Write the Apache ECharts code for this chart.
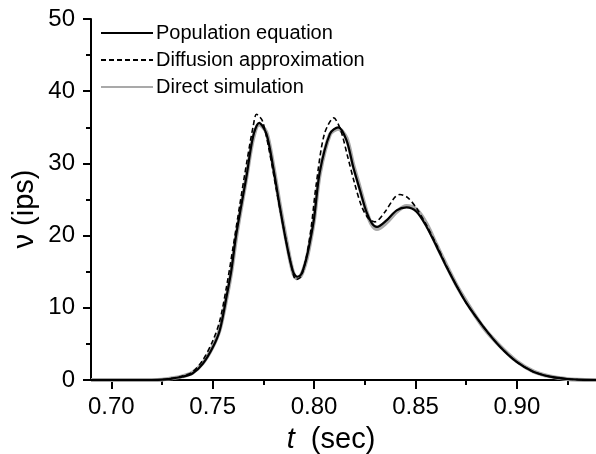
<!DOCTYPE html>
<html>
<head>
<meta charset="utf-8">
<script src="https://cdn.jsdelivr.net/npm/echarts@6/dist/echarts.min.js"></script>
<style>
html,body{margin:0;padding:0;background:#fff;}
#c{width:596px;height:454px;}
</style>
</head>
<body>
<div id="c"></div>
<script>
// Data
const tPop = [0.690, 0.710, 0.720, 0.725, 0.730, 0.735, 0.740, 0.745, 0.750, 0.7535, 0.757, 0.7592, 0.7617, 0.7666, 0.7699, 0.7729, 0.7765, 0.7798, 0.7831, 0.7864, 0.7896, 0.7916, 0.7936, 0.7960, 0.7980, 0.8000, 0.8028, 0.8078, 0.8119, 0.8160, 0.8193, 0.8226, 0.8259, 0.8285, 0.8310, 0.8357, 0.8407, 0.8456, 0.8505, 0.8555, 0.8604, 0.8654, 0.8703, 0.8752, 0.8834, 0.8917, 0.8999, 0.9081, 0.9163, 0.9246, 0.9300, 0.939];
const vPop = [0, 0, 0, 0.04, 0.2, 0.45, 0.9, 2.2, 4.5, 6.9, 11.8, 15.2, 20.3, 28.1, 33.7, 35.6, 34.1, 29.5, 24.0, 18.9, 15.0, 14.3, 14.6, 16.6, 19.2, 22.4, 28.8, 34.1, 35.0, 33.2, 29.5, 26.3, 23.2, 21.7, 21.2, 22.1, 23.5, 23.9, 23.3, 21.2, 18.5, 15.6, 13.0, 10.6, 7.4, 4.6, 2.5, 1.15, 0.46, 0.14, 0.05, 0];

const tDiff = [0.690, 0.710, 0.720, 0.725, 0.730, 0.735, 0.740, 0.745, 0.750, 0.7535, 0.757, 0.760, 0.7635, 0.767, 0.7700, 0.7716, 0.7745, 0.7780, 0.7815, 0.7850, 0.7885, 0.7911, 0.7935, 0.7960, 0.7985, 0.8010, 0.8050, 0.8097, 0.8130, 0.8165, 0.8200, 0.8235, 0.8270, 0.8300, 0.8350, 0.8395, 0.8423, 0.8460, 0.8505, 0.8555, 0.8604, 0.8654, 0.8703, 0.8752, 0.8834, 0.8917, 0.8999, 0.9081, 0.9163, 0.9246, 0.9300, 0.939];
const vDiff = [0, 0, 0, 0.05, 0.25, 0.55, 1.1, 2.7, 5.4, 8.2, 13.2, 18.3, 24.5, 30.5, 35.2, 36.8, 35.9, 31.6, 26.2, 21.0, 16.2, 13.9, 14.3, 16.8, 21.0, 27.0, 34.0, 36.3, 34.7, 31.0, 27.2, 24.0, 22.3, 21.9, 23.3, 25.2, 25.7, 25.3, 23.8, 21.4, 18.7, 15.7, 13.0, 10.6, 7.4, 4.6, 2.5, 1.15, 0.46, 0.14, 0.05, 0];

const tSim = tPop;
const vSim = [0, 0, 0, 0.05, 0.25, 0.5, 1.0, 2.3, 4.6, 7.0, 11.6, 15.0, 20.0, 28.0, 33.4, 35.4, 34.3, 29.8, 24.3, 19.2, 14.9, 14.1, 14.5, 16.4, 19.0, 22.2, 28.5, 34.0, 34.8, 33.5, 29.8, 26.6, 23.3, 21.5, 20.9, 21.8, 23.3, 24.1, 23.6, 21.6, 18.7, 15.8, 13.1, 10.8, 7.3, 4.7, 2.6, 1.2, 0.5, 0.15, 0.05, 0];

const xMajorTicks = [0.70, 0.75, 0.80, 0.85, 0.90];
const xMinorTicks = [0.725, 0.775, 0.825, 0.875, 0.925];
const seriesNames = ['Population equation', 'Diffusion approximation', 'Direct simulation'];

const zip = (a, b) => a.map((x, i) => [x, b[i]]);
const FONT = 'Liberation Sans, Arial, Helvetica, sans-serif';

const chart = echarts.init(document.getElementById('c'), null, {renderer: 'canvas'});
chart.setOption({
  backgroundColor: '#ffffff',
  animation: false,
  grid: {left: 91, right: 0, top: 19, bottom: 74, containLabel: false, outerBoundsMode: 'none'},
  legend: {
    orient: 'vertical',
    left: 100,
    top: 23,
    padding: 0,
    itemWidth: 52,
    itemHeight: 14,
    itemGap: 7,
    data: seriesNames,
    itemStyle: {opacity: 0},
    textStyle: {color: '#000', fontSize: 20, fontFamily: FONT, lineHeight: 20, padding: [0, 0, 0, -2]},
    selectedMode: false
  },
  xAxis: [{
    type: 'value',
    min: 0.69,
    max: 0.939,
    axisLine: {show: true, lineStyle: {color: '#000', width: 2}},
    axisTick: {show: true, customValues: xMajorTicks, length: 9, inside: false, lineStyle: {color: '#000', width: 2}},
    axisLabel: {show: true, customValues: xMajorTicks, margin: 15, color: '#000', fontSize: 24, fontFamily: FONT,
      formatter: v => v.toFixed(2)},
    splitLine: {show: false}
  }, {
    type: 'value',
    min: 0.69,
    max: 0.939,
    position: 'bottom',
    axisLine: {show: false},
    axisTick: {show: true, customValues: xMinorTicks, length: 5, lineStyle: {color: '#000', width: 2}},
    axisLabel: {show: false},
    splitLine: {show: false}
  }],
  yAxis: {
    type: 'value',
    min: 0,
    max: 50,
    interval: 10,
    axisLine: {show: true, lineStyle: {color: '#000', width: 2}},
    axisTick: {show: true, length: 8, lineStyle: {color: '#000', width: 2}},
    minorTick: {show: true, splitNumber: 2, length: 5, lineStyle: {color: '#000', width: 2}},
    axisLabel: {margin: 16, color: '#000', fontSize: 24, fontFamily: FONT},
    splitLine: {show: false},
    minorSplitLine: {show: false}
  },
  graphic: [
    {type: 'text', x: 25, y: 209, rotation: Math.PI / 2,
      style: {text: 'ν (ips)', fill: '#000', fontSize: 29, fontFamily: FONT, align: 'center', verticalAlign: 'middle'}},
    {type: 'text', x: 331, y: 440,
      style: {text: '{i|t}  (sec)', fill: '#000', fontSize: 29, fontFamily: FONT, align: 'center', verticalAlign: 'middle',
        rich: {i: {fontStyle: 'italic', fontSize: 29, fontFamily: FONT, fill: '#000'}}}}
  ],
  series: [
    {
      name: seriesNames[2], type: 'line', xAxisIndex: 0, data: zip(tSim, vSim),
      symbol: 'none', showSymbol: false, smooth: 0.3, z: 1,
      lineStyle: {color: '#a9a9a9', width: 4}, itemStyle: {color: '#a9a9a9'}
    },
    {
      name: seriesNames[0], type: 'line', xAxisIndex: 0, data: zip(tPop, vPop),
      symbol: 'none', showSymbol: false, smooth: 0.3, z: 3,
      lineStyle: {color: '#000', width: 2.2}, itemStyle: {color: '#000'}
    },
    {
      name: seriesNames[1], type: 'line', xAxisIndex: 0, data: zip(tDiff, vDiff),
      symbol: 'none', showSymbol: false, smooth: 0.3, z: 4,
      lineStyle: {color: '#000', width: 1.6, type: [5, 3]}, itemStyle: {color: '#000'}
    }
  ]
});
</script>
</body>
</html>
